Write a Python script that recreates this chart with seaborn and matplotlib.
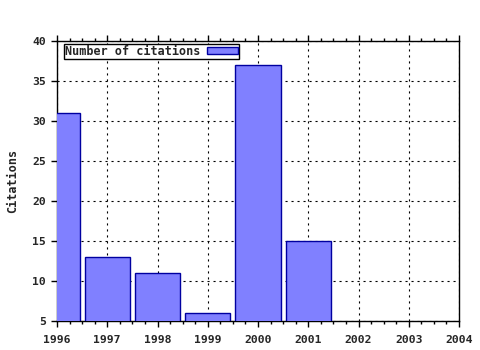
import matplotlib
matplotlib.use("Agg")
import matplotlib.pyplot as plt
import seaborn as sns
import pandas as pd
from matplotlib.ticker import MultipleLocator

years = [1996, 1997, 1998, 1999, 2000, 2001]
citations = [31, 13, 11, 6, 37, 15]
xticks = [1996, 1997, 1998, 1999, 2000, 2001, 2002, 2003, 2004]
yticks = [5, 10, 15, 20, 25, 30, 35, 40]

sns.set_style("ticks")
plt.rcParams['font.family'] = ['DejaVu Sans Mono']
plt.rcParams['font.weight'] = 'bold'
plt.rcParams['font.size'] = 8

df = pd.DataFrame({"year": years, "citations": citations})

fig = plt.figure(figsize=(4.8, 3.5), dpi=100)
ax = fig.add_axes([57/480, 29/350, 402/480, 280/350])

sns.barplot(data=df, x="year", y="citations", native_scale=True, width=0.9,
            color="#8080ff", saturation=1, edgecolor="#0000a0", linewidth=1,
            label="Number of citations", ax=ax, zorder=3)

ax.set_xlim(1996, 2004)
ax.set_ylim(5, 40)
ax.set_xticks(xticks)
ax.set_xticklabels([str(x) for x in xticks], fontweight='bold')
ax.set_yticks(yticks)
ax.set_yticklabels([str(y) for y in yticks], fontweight='bold')
ax.xaxis.set_minor_locator(MultipleLocator(0.25))
ax.tick_params(axis='x', which='both', direction='out', top=True, bottom=True,
               color='black', labelsize=8.2, pad=6)
ax.tick_params(axis='y', which='both', direction='out', left=True, right=False,
               color='black', labelsize=8.2, pad=4)
ax.tick_params(which='major', length=4, width=1)
ax.tick_params(which='minor', length=2, width=1)
ax.grid(True, which='major', linestyle=(0, (1.9, 3.5)), color='black', linewidth=0.8, zorder=0)
ax.set_axisbelow(True)
for s in ax.spines.values():
    s.set_visible(True)
    s.set_color('black')
    s.set_linewidth(1)
ax.set_xlabel("")
ax.set_ylabel("Citations", fontweight='bold', fontsize=8.5)
ax.yaxis.set_label_coords(-0.095, 0.5)

leg = ax.legend(loc='upper left', bbox_to_anchor=(0.017, 0.99), markerfirst=False,
                fancybox=False, framealpha=1, edgecolor='black', borderpad=0.1,
                handlelength=2.6, handleheight=0.55, handletextpad=0.6, borderaxespad=0,
                prop={'weight': 'bold', 'size': 8.5})
leg.get_frame().set_linewidth(1)

fig.savefig("out.png", dpi=100)
